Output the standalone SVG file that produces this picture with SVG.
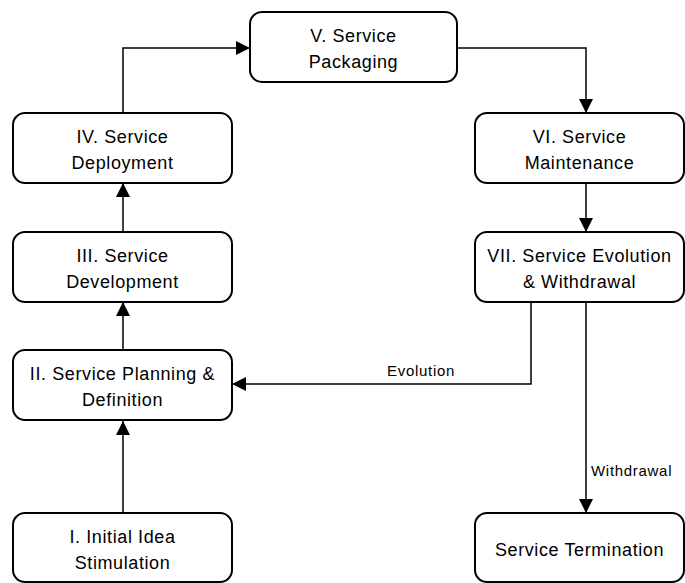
<svg xmlns="http://www.w3.org/2000/svg" width="685" height="583" viewBox="0 0 685 583">
  <style>
    .box { fill: #ffffff; stroke: #000000; stroke-width: 2; }
    .lbl { font-family: "Liberation Sans", Arial, sans-serif; font-size: 18px; letter-spacing: 0.6px; fill: #000000; text-anchor: middle; }
    .elbl { font-family: "Liberation Sans", Arial, sans-serif; font-size: 15px; letter-spacing: 0.7px; fill: #000000; }
    .edge { fill: none; stroke: #000000; stroke-width: 1.5; marker-end: url(#arrow); }
  </style>
  <defs>
    <marker id="arrow" viewBox="0 0 14 14" refX="14" refY="7" markerWidth="14" markerHeight="14" markerUnits="userSpaceOnUse" orient="auto">
      <path d="M0,0 L14,7 L0,14 Z" fill="#000000"/>
    </marker>
  </defs>
  <rect width="685" height="583" fill="#ffffff"/>

  <g id="connectors">
    <path class="edge" d="M123,113 V48 H250"/>
    <path class="edge" d="M457,48 H586 V113"/>
    <path class="edge" d="M586,183 V232"/>
    <path class="edge" d="M123,232 V183"/>
    <path class="edge" d="M123,350 V302"/>
    <path class="edge" d="M123,513 V421"/>
    <path class="edge" d="M531,302 V384 H232"/>
    <path class="edge" d="M586,302 V513"/>
    <text class="elbl" x="387" y="376">Evolution</text>
    <text class="elbl" x="591" y="476">Withdrawal</text>
  </g>

  <g id="n5">
    <rect class="box" x="250" y="12" width="207" height="70" rx="12"/>
    <text class="lbl" x="353.5" y="42">V. Service</text>
    <text class="lbl" x="353.5" y="68">Packaging</text>
  </g>
  <g id="n4">
    <rect class="box" x="13" y="113" width="219" height="70" rx="12"/>
    <text class="lbl" x="122.5" y="143">IV. Service</text>
    <text class="lbl" x="122.5" y="169">Deployment</text>
  </g>
  <g id="n6">
    <rect class="box" x="475" y="113" width="209" height="70" rx="12"/>
    <text class="lbl" x="579.5" y="143">VI. Service</text>
    <text class="lbl" x="579.5" y="169">Maintenance</text>
  </g>
  <g id="n3">
    <rect class="box" x="13" y="232" width="219" height="70" rx="12"/>
    <text class="lbl" x="122.5" y="262">III. Service</text>
    <text class="lbl" x="122.5" y="288">Development</text>
  </g>
  <g id="n7">
    <rect class="box" x="475" y="232" width="209" height="70" rx="12"/>
    <text class="lbl" x="579.5" y="262">VII. Service Evolution</text>
    <text class="lbl" x="579.5" y="288">&amp; Withdrawal</text>
  </g>
  <g id="n2">
    <rect class="box" x="13" y="350" width="219" height="70" rx="12"/>
    <text class="lbl" x="122.5" y="380">II. Service Planning &amp;</text>
    <text class="lbl" x="122.5" y="406">Definition</text>
  </g>
  <g id="n1">
    <rect class="box" x="13" y="513" width="219" height="69" rx="12"/>
    <text class="lbl" x="122.5" y="543">I. Initial Idea</text>
    <text class="lbl" x="122.5" y="569">Stimulation</text>
  </g>
  <g id="n8">
    <rect class="box" x="475" y="513" width="209" height="69" rx="12"/>
    <text class="lbl" x="579.5" y="556">Service Termination</text>
  </g>
</svg>
